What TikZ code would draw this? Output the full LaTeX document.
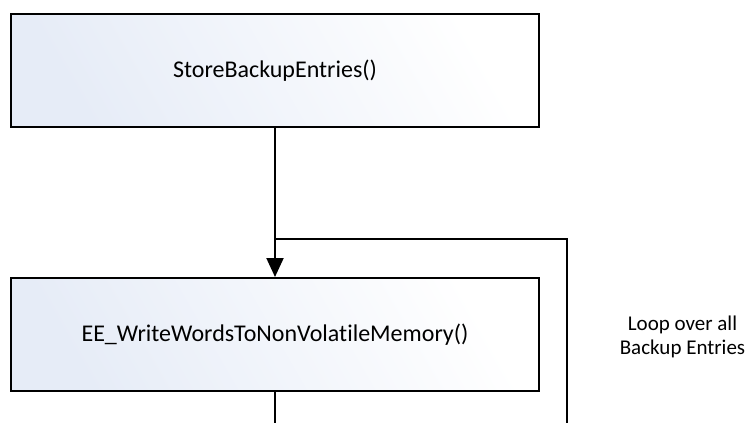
\documentclass[tikz,border=0pt]{standalone}
\usepackage{fontspec}
\setmainfont[Ligatures={NoCommon}]{Carlito}
\usetikzlibrary{arrows.meta}
\definecolor{boxtint}{HTML}{E6ECF7}
\begin{document}
\begin{tikzpicture}[x=1pt,y=-1pt,
  funcbox/.style={draw=black, line width=2pt, minimum width=528pt, minimum height=113pt,
    left color=boxtint, right color=white, shading angle=120, font=\fontsize{24}{28}\selectfont, inner sep=0pt},
  conn/.style={line width=2pt, draw=black},
  looptext/.style={align=center, font=\fontsize{21}{24}\selectfont, inner sep=0pt}]
\useasboundingbox (0,0) rectangle (750,423);
\node[funcbox] (b1) at (275,70.5) {StoreBackupEntries()};
\node[funcbox] (b2) at (275,334.5) {EE\_WriteWordsToNonVolatileMemory()};
\node[looptext] (lbl) at (682.5,337) {Loop over all\\Backup Entries};
\coordinate (j) at (275,239);
\coordinate (lr) at (567,239);
\coordinate (lb) at (567,424);
\coordinate (bb) at (275,424);
\draw[conn, -{Triangle[length=19pt,width=17pt]}] (b1.south) -- (b2.north);
\draw[conn] (j) -- (lr) -- (lb);
\draw[conn] (b2.south) -- (bb);
\end{tikzpicture}
\end{document}
